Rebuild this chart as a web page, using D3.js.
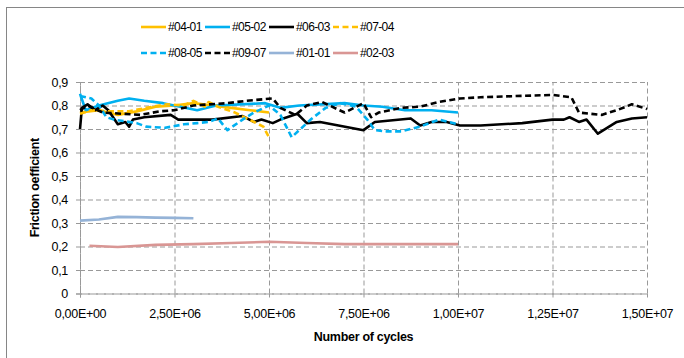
<!DOCTYPE html>
<html>
<head>
<meta charset="utf-8">
<script src="https://cdn.jsdelivr.net/npm/d3@7"></script>
<style>
  body { margin: 0; background: #fff; }
  svg text { font-family: "Liberation Sans", Arial, sans-serif; fill: #000; }
</style>
</head>
<body>
<div class="canvas"></div>
<script>
// series names, in legend order
const seriesNames = ['#04-01', '#05-02', '#06-03', '#07-04', '#08-05', '#09-07', '#01-01', '#02-03'];
const seriesColors = ['#FFC000', '#00B0F0', '#000000', '#FFC000', '#00B0F0', '#000000', '#95B3D7', '#D99694'];
const seriesDashed = [false, false, false, true, true, true, false, false];

// cycles in millions, friction coefficient
const s0401 = [[0,0.77],[0.5,0.78],[1.0,0.76],[1.5,0.775],[2.0,0.795],[2.5,0.80],[3.0,0.81],[3.5,0.80],[4.0,0.79],[4.5,0.78],[5.0,0.77]];
const s0502 = [[0,0.85],[0.15,0.78],[0.5,0.80],[1.0,0.82],[1.3,0.83],[1.7,0.82],[2.2,0.81],[3.1,0.78],[3.6,0.80],[4.9,0.81],[5.3,0.79],[5.8,0.80],[7.0,0.81],[7.5,0.80],[8.0,0.795],[8.6,0.78],[9.3,0.78],[10.0,0.77]];
const s0603 = [[0,0.70],[0.05,0.79],[0.2,0.805],[0.4,0.78],[0.6,0.80],[0.75,0.78],[1.0,0.72],[1.2,0.73],[1.3,0.71],[1.4,0.74],[1.7,0.75],[2.4,0.76],[2.6,0.74],[3.5,0.74],[4.3,0.755],[4.6,0.73],[4.8,0.74],[5.1,0.725],[5.3,0.74],[5.75,0.765],[6.0,0.725],[6.35,0.73],[7.5,0.695],[7.8,0.73],[8.75,0.745],[9.0,0.715],[9.3,0.73],[9.7,0.73],[10.05,0.715],[10.6,0.715],[11.7,0.725],[12.5,0.74],[12.8,0.74],[12.95,0.75],[13.2,0.73],[13.4,0.74],[13.7,0.68],[14.2,0.73],[14.6,0.745],[15.0,0.75]];
const s0704 = [[0,0.765],[0.3,0.78],[0.8,0.775],[1.3,0.775],[1.75,0.79],[2.3,0.805],[2.75,0.80],[3.0,0.82],[3.3,0.795],[3.4,0.815],[3.65,0.795],[4.1,0.77],[4.6,0.73],[4.85,0.71],[5.0,0.665]];
const s0805 = [[0,0.84],[0.3,0.83],[0.5,0.80],[0.7,0.75],[0.9,0.74],[1.5,0.725],[1.75,0.71],[2.25,0.705],[2.75,0.72],[3.1,0.725],[3.4,0.73],[3.65,0.745],[3.9,0.695],[4.3,0.74],[4.6,0.77],[5.0,0.80],[5.3,0.76],[5.6,0.665],[6.1,0.74],[6.5,0.79],[6.9,0.81],[7.3,0.795],[7.6,0.74],[7.8,0.695],[8.1,0.69],[8.5,0.69],[9.0,0.71],[9.5,0.74],[10.0,0.72]];
const s0907 = [[0,0.78],[0.2,0.80],[0.6,0.77],[1.6,0.76],[2.1,0.775],[2.5,0.78],[3.0,0.80],[3.9,0.81],[4.4,0.82],[5.1,0.83],[5.3,0.79],[5.7,0.76],[6.0,0.80],[6.4,0.815],[7.0,0.77],[7.5,0.81],[7.7,0.75],[7.9,0.77],[8.5,0.79],[9.0,0.795],[9.5,0.815],[10.05,0.83],[10.6,0.835],[11.5,0.84],[12.5,0.845],[13.0,0.835],[13.2,0.77],[13.8,0.76],[14.2,0.78],[14.6,0.805],[15.0,0.785]];
const s0101 = [[0,0.31],[0.5,0.315],[1.0,0.326],[1.5,0.325],[2.0,0.323],[2.5,0.322],[3.0,0.32]];
const s0203 = [[0.25,0.203],[1.0,0.198],[2.0,0.207],[3.0,0.21],[4.0,0.215],[5.0,0.22],[6.0,0.215],[7.0,0.21],[8.0,0.21],[9.0,0.21],[10.0,0.21]];
const seriesData = [s0401, s0502, s0603, s0704, s0805, s0907, s0101, s0203];

// tick values and labels
const xTicks = [0, 2.5, 5, 7.5, 10, 12.5, 15];
const xLabels = ['0,00E+00', '2,50E+06', '5,00E+06', '7,50E+06', '1,00E+07', '1,25E+07', '1,50E+07'];
const yTicks = [0, 0.1, 0.2, 0.3, 0.4, 0.5, 0.6, 0.7, 0.8, 0.9];
const yLabels = ['0', '0,1', '0,2', '0,3', '0,4', '0,5', '0,6', '0,7', '0,8', '0,9'];

const width = 684, height = 358;
const margin = {top: 82, right: 37, bottom: 64.5, left: 80};
const graphWidth = width - margin.left - margin.right;
const graphHeight = height - margin.top - margin.bottom;
const fontSize = 12.5;

const svg = d3.select('.canvas')
    .append('svg')
        .attr('width', width)
        .attr('height', height);

// chart border
svg.append('rect')
    .attr('x', 6.5).attr('y', 7.5)
    .attr('width', 720).attr('height', 400)
    .attr('fill', 'none')
    .attr('stroke', '#868686');

const graph = svg.append('g')
    .attr('transform', `translate(${margin.left},${margin.top})`);

const x = d3.scaleLinear().domain([0, 15]).range([0, graphWidth]);
const y = d3.scaleLinear().domain([0, 0.9]).range([graphHeight, 0]);

// gridlines
const yGrid = graph.append('g')
    .call(d3.axisLeft(y).tickValues(yTicks).tickSize(-graphWidth).tickFormat(''));
const xGrid = graph.append('g')
    .attr('transform', `translate(0,${graphHeight})`)
    .call(d3.axisBottom(x).tickValues(xTicks).tickSize(-graphHeight).tickFormat(''));
[yGrid, xGrid].forEach(g => {
    g.select('.domain').remove();
    g.selectAll('.tick line')
        .attr('stroke', '#999')
        .attr('stroke-dasharray', '5,3');
});

// axis lines with short crossing ticks and labels
const yAxis = graph.append('g')
    .call(d3.axisLeft(y).tickValues(yTicks).tickSize(4).tickPadding(8)
        .tickFormat((d, i) => yLabels[i]));
const xAxis = graph.append('g')
    .attr('transform', `translate(0,${graphHeight})`)
    .call(d3.axisBottom(x).tickValues(xTicks).tickSize(4).tickPadding(12)
        .tickFormat((d, i) => xLabels[i]));
[yAxis, xAxis].forEach(g => {
    g.select('.domain')
        .attr('stroke', '#999')
        .attr('stroke-dasharray', '5,3');
    g.selectAll('.tick line').attr('stroke', '#999');
    g.selectAll('.tick text')
        .attr('font-size', fontSize)
        .attr('letter-spacing', -0.3)
        .attr('font-family', '"Liberation Sans", Arial, sans-serif');
});

// lines
const line = d3.line()
    .x(d => x(d[0]))
    .y(d => y(d[1]));

seriesData.forEach((data, i) => {
    graph.append('path')
        .datum(data)
        .attr('fill', 'none')
        .attr('stroke', seriesColors[i])
        .attr('stroke-width', 2.6)
        .attr('stroke-linejoin', 'round')
        .attr('stroke-dasharray', seriesDashed[i] ? '6,3.5' : null)
        .attr('d', line);
});

// axis titles
svg.append('text')
    .attr('x', margin.left + graphWidth / 2)
    .attr('y', 341)
    .attr('text-anchor', 'middle')
    .attr('font-size', fontSize)
    .attr('font-weight', 'bold')
    .attr('letter-spacing', -0.3)
    .text('Number of cycles');

svg.append('text')
    .attr('transform', `translate(39,${margin.top + graphHeight / 2}) rotate(-90)`)
    .attr('text-anchor', 'middle')
    .attr('font-size', fontSize)
    .attr('font-weight', 'bold')
    .attr('letter-spacing', -0.3)
    .text('Friction oefficient');

// legend, 4 per row
const legend = svg.append('g');
seriesNames.forEach((name, i) => {
    const col = i % 4, row = Math.floor(i / 4);
    const item = legend.append('g')
        .attr('transform', `translate(${141 + col * 64},${27 + row * 26})`);
    item.append('line')
        .attr('x1', 0).attr('x2', 25)
        .attr('stroke', seriesColors[i])
        .attr('stroke-width', 2.6)
        .attr('stroke-dasharray', seriesDashed[i] ? '6,3.5' : null);
    item.append('text')
        .attr('x', 27)
        .attr('dy', '0.35em')
        .attr('font-size', 12)
        .attr('letter-spacing', -0.6)
        .text(name);
});
</script>
</body>
</html>
